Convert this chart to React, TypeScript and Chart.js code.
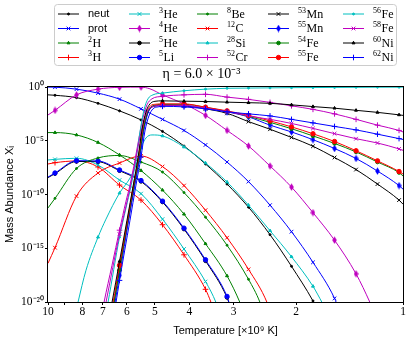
import React, { useEffect, useRef } from 'react';
import { Chart, registerables } from 'chart.js';
import { drawPoint } from 'chart.js/helpers';

Chart.register(...registerables);

// Temperatures (x10^9 K) of the sampled points that carry a marker
const markTemps = [9.556, 8.312, 7.229, 6.288, 5.47, 4.758, 4.139, 3.6, 3.131, 2.724, 2.369, 2.061, 1.793, 1.559, 1.356, 1.18, 1.026];

// Each series: [temperature (x10^9 K), log10 of mass abundance]
const neut = [[10,-0.73],[9.556,-0.77],[8.312,-0.99],[7.229,-1.52],[6.288,-2.22],[5.47,-3.06],[4.758,-4.13],[4.139,-5.49],[3.6,-7.16],[3.131,-9.03],[2.724,-11.18],[2.369,-13.74],[2.061,-16.68],[1.793,-19.9],[1.713,-21.2]];
const prot = [[10,-0.01],[9.556,-0.02],[8.312,-0.2],[7.229,-0.57],[6.288,-1.13],[5.47,-2.03],[4.758,-3.01],[4.139,-4.04],[3.6,-5.39],[3.131,-6.98],[2.724,-8.8],[2.369,-10.99],[2.061,-13.46],[1.793,-16.31],[1.559,-19.66],[1.524,-20.5]];
const h2 = [[10,-4.24],[9.556,-4.24],[8.312,-4.46],[7.229,-5.16],[6.288,-6.32],[5.47,-7.77],[4.758,-9.59],[4.139,-11.83],[3.6,-14.58],[3.131,-17.57],[2.88,-20.04],[2.823,-20.8]];
const h3 = [[10,-7.16],[9.556,-7.04],[8.312,-6.88],[7.229,-7.44],[6.288,-9.12],[5.47,-10.52],[4.758,-12.81],[4.139,-15.61],[3.6,-18.82],[3.474,-20.04],[3.43,-20.6]];
const he3 = [[10,-6.79],[9.556,-6.73],[8.312,-6.63],[7.229,-7.26],[6.288,-8.66],[5.47,-9.92],[4.758,-12.29],[4.139,-15.07],[3.6,-18.1],[3.364,-20.04],[3.32,-20.6]];
const he4 = [[10,-2.6],[9.556,-2.17],[8.312,-0.73],[7.229,-0.2],[6.288,-0.03],[5.47,-0.01],[5.162,-0.17],[4.758,-0.73],[4.139,-1.57],[3.6,-2.64],[3.131,-4.04],[2.724,-5.49],[2.369,-7.35],[2.061,-9.31],[1.793,-11.69],[1.559,-14.25],[1.356,-17.38],[1.239,-20.04],[1.215,-20.7]];
const he5 = [[10,-8.43],[9.556,-8.06],[8.312,-6.93],[7.229,-6.95],[6.288,-7.79],[5.47,-8.78],[4.758,-10.7],[4.139,-13.22],[3.6,-16.17],[3.131,-19.58],[3.091,-20.1],[3.051,-20.7]];
const li5 = [[10,-8.38],[9.556,-8.0],[8.312,-6.86],[7.229,-6.88],[6.288,-7.72],[5.47,-8.7],[4.758,-10.62],[4.139,-13.13],[3.6,-16.07],[3.131,-19.48],[3.091,-20.04],[3.051,-20.6]];
const be8 = [[10,-11.25],[9.556,-10.36],[8.312,-7.58],[7.229,-6.6],[6.288,-6.37],[5.47,-6.98],[4.758,-7.91],[4.139,-9.82],[3.6,-12.11],[3.131,-14.72],[2.724,-17.89],[2.528,-20.04],[2.496,-20.6]];
const c12 = [[10,-16.4],[9.556,-14.95],[8.312,-10.15],[7.229,-8.0],[6.288,-7.07],[5.47,-6.42],[4.758,-7.4],[4.139,-9.17],[3.6,-11.46],[3.131,-14.02],[2.724,-16.96],[2.416,-20.04],[2.385,-20.6]];
const si28 = [[8.31,-20.6],[8.234,-20.04],[7.816,-17.05],[7.229,-13.97],[6.865,-12.29],[6.288,-9.87],[5.875,-8.47],[5.651,-7.26],[5.47,-5.67],[5.297,-4.74],[5.095,-4.46],[4.758,-4.55],[4.139,-5.58],[3.6,-7.07],[3.131,-8.84],[2.724,-10.99],[2.369,-13.37],[2.061,-15.79],[1.793,-18.54],[1.691,-20.04],[1.669,-20.4]];
const cr52 = [[7.046,-21],[6.955,-20.04],[6.603,-16.58],[6.288,-13.32],[6.03,-10.62],[5.875,-9.12],[5.688,-6.79],[5.543,-4.74],[5.401,-2.87],[5.263,-1.66],[5.095,-1.1],[4.758,-0.87],[4.139,-0.73],[3.6,-0.68],[3.131,-0.94],[2.724,-1.15],[2.369,-1.43],[2.061,-1.75],[1.793,-2.08],[1.559,-2.5],[1.356,-3.01],[1.18,-3.55],[1.026,-4.04],[1,-4.18]];
const mn53 = [[6.603,-21],[6.518,-20.04],[6.288,-16.87],[5.953,-12.57],[5.725,-9.31],[5.543,-6.79],[5.401,-4.27],[5.263,-2.59],[5.128,-1.94],[4.932,-1.75],[4.758,-1.71],[4.139,-1.75],[3.6,-2.03],[3.131,-2.45],[2.724,-3.22],[2.369,-3.93],[2.061,-4.69],[1.793,-5.51],[1.559,-6.56],[1.356,-7.68],[1.18,-9.03],[1.026,-10.52],[1,-10.9]];
const mn55 = [[6.56,-21],[6.476,-20.04],[6.288,-17.52],[5.914,-12.2],[5.688,-9.03],[5.507,-6.42],[5.366,-3.99],[5.228,-2.41],[5.095,-1.85],[4.9,-1.71],[4.758,-1.66],[4.139,-1.71],[3.6,-1.99],[3.131,-2.31],[2.724,-2.78],[2.369,-3.55],[2.061,-4.18],[1.793,-4.9],[1.559,-5.72],[1.356,-6.65],[1.18,-7.82],[1.026,-9.17],[1,-9.5]];
const fe54 = [[6.603,-21],[6.518,-20.04],[6.288,-17.05],[5.953,-12.29],[5.725,-9.12],[5.543,-6.51],[5.401,-4.09],[5.263,-2.5],[5.128,-1.85],[4.932,-1.66],[4.758,-1.61],[4.139,-1.61],[3.6,-1.89],[3.131,-2.27],[2.724,-2.73],[2.369,-3.29],[2.061,-3.88],[1.793,-4.55],[1.559,-5.25],[1.356,-6.04],[1.18,-6.98],[1.026,-7.96],[1,-8.28]];
const fe55 = [[6.646,-21],[6.56,-20.04],[6.288,-16.58],[5.972,-12.39],[5.743,-9.12],[5.561,-6.51],[5.419,-3.99],[5.28,-2.41],[5.145,-1.75],[4.964,-1.6],[4.758,-1.57],[4.139,-1.57],[3.6,-1.88],[3.131,-2.22],[2.724,-2.64],[2.369,-3.15],[2.061,-3.71],[1.793,-4.35],[1.559,-5.07],[1.356,-5.93],[1.18,-6.87],[1.026,-7.86],[1,-8.1]];
const fe56 = [[6.865,-21],[6.776,-20.04],[6.288,-13.97],[6.03,-11.27],[5.838,-9.22],[5.651,-6.79],[5.507,-4.18],[5.366,-2.13],[5.228,-1.1],[5.062,-0.73],[4.758,-0.57],[4.139,-0.35],[3.6,-0.2],[3.131,-0.12],[2.724,-0.1],[2.369,-0.08],[2.061,-0.06],[1.793,-0.05],[1.559,-0.04],[1.356,-0.03],[1.18,-0.02],[1.026,-0.015],[1,-0.01]];
const fe58 = [[6.955,-21],[6.865,-20.04],[6.288,-13.69],[6.03,-11.08],[5.875,-9.4],[5.688,-7.07],[5.543,-5.11],[5.401,-3.43],[5.263,-2.31],[5.095,-1.85],[4.758,-1.71],[4.139,-1.71],[3.6,-1.97],[3.131,-2.29],[2.724,-2.69],[2.369,-3.01],[2.061,-3.39],[1.793,-3.85],[1.559,-4.34],[1.356,-4.81],[1.18,-5.21],[1.026,-5.76],[1,-5.89]];
const ni60 = [[6.69,-21],[6.603,-20.04],[6.288,-16.22],[5.991,-12.39],[5.751,-9.12],[5.579,-6.6],[5.436,-3.99],[5.297,-2.31],[5.161,-1.57],[4.996,-1.33],[4.758,-1.29],[4.139,-1.32],[3.6,-1.35],[3.131,-1.41],[2.724,-1.46],[2.369,-1.52],[2.061,-1.66],[1.793,-1.82],[1.559,-1.97],[1.356,-2.17],[1.18,-2.36],[1.026,-2.59],[1,-2.64]];
const ni62 = [[6.518,-21],[6.434,-20.04],[6.288,-17.99],[5.875,-12.39],[5.651,-9.12],[5.47,-6.51],[5.332,-4.09],[5.195,-2.69],[5.062,-2.03],[4.9,-1.85],[4.758,-1.8],[4.139,-1.85],[3.6,-2.03],[3.131,-2.31],[2.724,-2.5],[2.369,-2.69],[2.061,-3.01],[1.793,-3.34],[1.559,-3.67],[1.356,-3.99],[1.18,-4.39],[1.026,-4.8],[1,-4.88]];

const seriesData = [neut, prot, h2, h3, he3, he4, he5, li5, be8, c12, si28, cr52, mn53, mn55, fe54, fe55, fe56, fe58, ni60, ni62];
const seriesLabels = ['neut', 'prot', '²H', '³H', '³He', '⁴He', '⁵He', '⁵Li', '⁸Be', '¹²C', '²⁸Si', '⁵²Cr', '⁵³Mn', '⁵⁵Mn', '⁵⁴Fe', '⁵⁵Fe', '⁵⁶Fe', '⁵⁸Fe', '⁶⁰Ni', '⁶²Ni'];

const xTickValues = [1, 2, 3, 4, 5, 6, 7, 8, 9, 10];
const xTickLabels = ['1', '2', '3', '4', '5', '6', '7', '8', '', '10'];
const yTickValues = [1e-20, 1e-15, 1e-10, 1e-5, 1];
const yTickLabels = ['10⁻²⁰', '10⁻¹⁵', '10⁻¹⁰', '10⁻⁵', '10⁰'];
const titleText = 'η = 6.0 × 10⁻³';
const xTitle = 'Temperature [×10⁹ K]';
const yTitle = 'Mass Abundance Xᵢ';

const colorCycle = ['#000000', '#0000ff', '#008000', '#ff0000', '#00bfbf', '#bf00bf'];
const markerCycle = ['dot', 'x', 'tri', 'plus', 'x', 'thin', 'pent', 'o'];

const supMap: Record<string, string> = { '⁰': '0', '¹': '1', '²': '2', '³': '3', '⁴': '4', '⁵': '5', '⁶': '6', '⁷': '7', '⁸': '8', '⁹': '9' };

function thinDiamond(color: string) {
  const c = document.createElement('canvas');
  c.width = 5;
  c.height = 8;
  const g = c.getContext('2d')!;
  g.fillStyle = color;
  g.beginPath();
  g.moveTo(2.5, 0.2);
  g.lineTo(4.8, 4);
  g.lineTo(2.5, 7.8);
  g.lineTo(0.2, 4);
  g.closePath();
  g.fill();
  return c;
}

export default function App() {
  const ref = useRef<HTMLCanvasElement>(null);

  useEffect(() => {
    const canvas = ref.current;
    if (!canvas) return;

    const specs = seriesData.map((_, i) => {
      const color = colorCycle[i % 6];
      const m = markerCycle[i % 8];
      let pointStyle: any = 'circle';
      let radius = 2.2;
      let bw = 1;
      if (m === 'dot') { pointStyle = 'circle'; radius = 1.0; }
      else if (m === 'x') { pointStyle = 'crossRot'; radius = 2.6; }
      else if (m === 'tri') { pointStyle = 'triangle'; radius = 1.7; }
      else if (m === 'plus') { pointStyle = 'cross'; radius = 2.8; }
      else if (m === 'thin') { pointStyle = thinDiamond(color); radius = 3; }
      else if (m === 'pent') { pointStyle = 'circle'; radius = 1.8; }
      else if (m === 'o') { pointStyle = 'circle'; radius = 2.2; }
      return { color, pointStyle, radius, bw };
    });

    const datasets = seriesData.map((arr, i) => ({
      label: seriesLabels[i],
      data: arr.map(([t, v]) => ({ x: t, y: Math.pow(10, v) })),
      borderColor: specs[i].color,
      backgroundColor: specs[i].color,
      borderWidth: 1,
      pointStyle: specs[i].pointStyle,
      pointRadius: (c: any) => (c.raw && markTemps.includes(c.raw.x) ? specs[i].radius : 0),
      pointHoverRadius: 0,
      pointBackgroundColor: specs[i].color,
      pointBorderColor: specs[i].color,
      pointBorderWidth: specs[i].bw,
      cubicInterpolationMode: 'monotone' as const,
      order: -i,
    }));

    const legendColX = [58, 129, 197, 268, 343];
    const legendRowY = [14, 28.5, 43, 57.5];

    const framePlugin = {
      id: 'frame',
      afterDatasetsDraw(chart: any) {
        const { ctx, chartArea: a } = chart;
        ctx.save();
        ctx.strokeStyle = '#000';
        ctx.lineWidth = 1;
        ctx.strokeRect(a.left - 0.5, a.top - 0.5, a.right - a.left + 1, a.bottom - a.top + 1);
        ctx.restore();
      },
    };

    const legendPlugin = {
      id: 'isoLegend',
      afterDraw(chart: any) {
        const ctx = chart.ctx;
        ctx.save();
        ctx.beginPath();
        (ctx as any).roundRect(54.5, 4.5, 342, 61, 3);
        ctx.fillStyle = 'rgba(255,255,255,0.8)';
        ctx.fill();
        ctx.strokeStyle = '#cccccc';
        ctx.lineWidth = 1;
        ctx.stroke();
        seriesLabels.forEach((label, i) => {
          const col = Math.floor(i / 4);
          const row = i % 4;
          const x0 = legendColX[col];
          const y = legendRowY[row];
          const s = specs[i];
          ctx.strokeStyle = s.color;
          ctx.lineWidth = 1;
          ctx.beginPath();
          ctx.moveTo(x0, y);
          ctx.lineTo(x0 + 21, y);
          ctx.stroke();
          ctx.fillStyle = s.color;
          drawPoint(ctx, { pointStyle: s.pointStyle, radius: s.radius, borderWidth: s.bw, rotation: 0 } as any, x0 + 10.5, y);
          const tx = x0 + 30;
          ctx.fillStyle = '#000';
          ctx.textBaseline = 'middle';
          ctx.textAlign = 'left';
          let k = 0;
          while (k < label.length && supMap[label[k]]) k++;
          if (k === 0) {
            ctx.font = '11px "Liberation Sans"';
            ctx.fillText(label, tx, y);
          } else {
            const sup = label.slice(0, k).split('').map((ch) => supMap[ch]).join('');
            ctx.font = '8px "Liberation Serif"';
            ctx.fillText(sup, tx, y - 3.5);
            const w = ctx.measureText(sup).width;
            ctx.font = '12px "Liberation Serif"';
            ctx.fillText(label.slice(k), tx + w + 0.5, y + 0.5);
          }
        });
        ctx.restore();
      },
    };

    const chart = new Chart(canvas, {
      type: 'line',
      data: { datasets: datasets as any },
      options: {
        animation: false,
        responsive: false,
        devicePixelRatio: 1,
        events: [],
        layout: { padding: { top: 62, right: 8, left: 0, bottom: 0 } },
        plugins: {
          legend: { display: false },
          tooltip: { enabled: false },
          title: {
            display: true,
            text: titleText,
            color: '#000',
            font: { family: 'Liberation Serif', size: 14, weight: 'normal' },
            padding: { top: 4, bottom: 4.2 },
          },
        },
        scales: {
          x: {
            type: 'logarithmic',
            reverse: true,
            min: 1,
            max: 10,
            afterBuildTicks: (s: any) => { s.ticks = xTickValues.map((v) => ({ value: v })); },
            afterFit: (s: any) => { s.height = 36; },
            ticks: {
              autoSkip: false,
              maxRotation: 0,
              padding: 0,
              color: '#000',
              font: { family: 'Liberation Serif', size: 11.5 },
              callback: (v: any) => xTickLabels[xTickValues.indexOf(Number(v))],
            },
            grid: { display: true, drawOnChartArea: false, drawTicks: true, tickLength: 3, color: '#000' },
            border: { display: false },
            title: {
              display: true,
              text: xTitle,
              color: '#000',
              font: { family: 'Liberation Sans', size: 11 },
              padding: { top: 6.4, bottom: 0 },
            },
          },
          y: {
            type: 'logarithmic',
            min: 1e-20,
            max: 1,
            afterBuildTicks: (s: any) => { s.ticks = yTickValues.map((v) => ({ value: v })); },
            afterFit: (s: any) => { s.width = 48; },
            ticks: {
              autoSkip: false,
              padding: 1,
              color: '#000',
              font: { family: 'Liberation Serif', size: 11.5 },
              callback: (v: any) => yTickLabels[yTickValues.indexOf(Number(v))],
            },
            grid: { display: true, drawOnChartArea: false, drawTicks: true, tickLength: 3, color: '#000' },
            border: { display: false },
            title: {
              display: true,
              text: yTitle,
              color: '#000',
              font: { family: 'Liberation Sans', size: 11 },
              padding: { top: 3, bottom: 0 },
            },
          },
        },
      },
      plugins: [framePlugin, legendPlugin],
    });

    return () => chart.destroy();
  }, []);

  return (
    <div style={{ position: 'absolute', left: 0, top: 0, width: 411, height: 338 }}>
      <canvas ref={ref} width={411} height={338} style={{ display: 'block' }} />
    </div>
  );
}
